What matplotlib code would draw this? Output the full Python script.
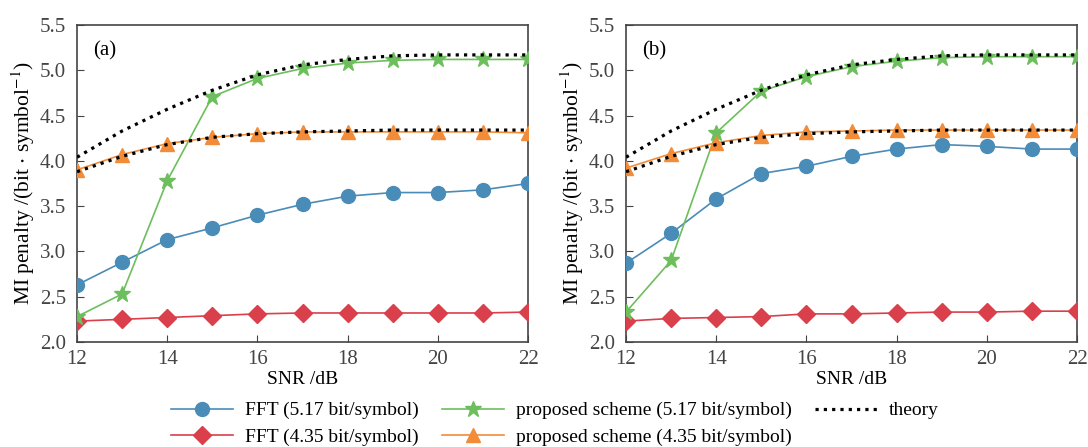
import numpy as np
import matplotlib.pyplot as plt

plt.rcParams['font.family'] = ['Liberation Serif', 'DejaVu Serif']
plt.rcParams['mathtext.fontset'] = 'stix'

snr = [12, 13, 14, 15, 16, 17, 18, 19, 20, 21, 22]

# panel (a)
fft517_a = [2.63, 2.88, 3.13, 3.26, 3.40, 3.52, 3.61, 3.65, 3.65, 3.68, 3.75]
prop517_a = [2.28, 2.53, 3.78, 4.71, 4.91, 5.02, 5.08, 5.11, 5.12, 5.12, 5.12]
fft435_a = [2.23, 2.25, 2.27, 2.29, 2.31, 2.32, 2.32, 2.32, 2.32, 2.32, 2.33]
prop435_a = [3.90, 4.07, 4.19, 4.26, 4.30, 4.32, 4.32, 4.32, 4.32, 4.32, 4.31]

# panel (b)
fft517_b = [2.87, 3.20, 3.58, 3.86, 3.94, 4.05, 4.13, 4.18, 4.16, 4.13, 4.13]
prop517_b = [2.33, 2.90, 4.31, 4.77, 4.93, 5.04, 5.10, 5.14, 5.15, 5.15, 5.15]
fft435_b = [2.23, 2.26, 2.27, 2.28, 2.31, 2.31, 2.32, 2.33, 2.33, 2.34, 2.34]
prop435_b = [3.92, 4.08, 4.20, 4.28, 4.32, 4.33, 4.34, 4.34, 4.34, 4.34, 4.34]

# theory curves (same in both panels)
theory517 = [4.04, 4.33, 4.57, 4.78, 4.95, 5.06, 5.12, 5.16, 5.17, 5.17, 5.17]
theory435 = [3.88, 4.05, 4.18, 4.26, 4.30, 4.32, 4.33, 4.34, 4.34, 4.34, 4.34]

c_blue = '#4a8cb8'
c_green = '#6cbf5c'
c_red = '#d9404c'
c_orange = '#f28c38'

fig = plt.figure(figsize=(10.88, 4.47), dpi=100)
ax1 = fig.add_axes([0.0708, 0.235, 0.4145, 0.709])
ax2 = fig.add_axes([0.5754, 0.235, 0.4145, 0.709])

panels = [(ax1, '(a)', fft517_a, prop517_a, fft435_a, prop435_a),
          (ax2, '(b)', fft517_b, prop517_b, fft435_b, prop435_b)]

for ax, lab, f517, p517, f435, p435 in panels:
    ax.plot(snr, f517, color=c_blue, marker='o', ms=10, lw=1.2,
            label='FFT (5.17 bit/symbol)', zorder=3)
    ax.plot(snr, f435, color=c_red, marker='D', ms=9, lw=1.2,
            label='FFT (4.35 bit/symbol)', zorder=3)
    ax.plot(snr, p517, color=c_green, marker='*', ms=12, lw=1.2,
            label='proposed scheme (5.17 bit/symbol)', zorder=3)
    ax.plot(snr, p435, color=c_orange, marker='^', ms=10, lw=1.2,
            label='proposed scheme (4.35 bit/symbol)', zorder=3)
    ax.plot(snr, theory517, color='black', ls=(0, (1, 1.6)), lw=2.3, label='theory', zorder=4)
    ax.plot(snr, theory435, color='black', ls=(0, (1, 1.6)), lw=2.3, zorder=4)

    ax.set_xlim(12, 22)
    ax.set_ylim(2.0, 5.5)
    ax.set_xticks([12, 14, 16, 18, 20, 22])
    ax.set_yticks(np.arange(2.0, 5.51, 0.5))
    ax.set_yticklabels(['%.1f' % v for v in np.arange(2.0, 5.51, 0.5)])
    ax.tick_params(direction='in', labelsize=15, colors='#444444', length=5)
    ax.tick_params(axis='y', pad=8)
    ax.tick_params(axis='x', pad=6)
    for s in ax.spines.values():
        s.set_color('#444444')
        s.set_linewidth(1.2)
    ax.set_xlabel('SNR /dB', fontsize=14, labelpad=1)
    ax.set_ylabel(r'MI penalty /(bit $\cdot$ symbol$^{-1}$)', fontsize=15.5, labelpad=2)
    ax.text(0.035, 0.95, lab, transform=ax.transAxes, fontsize=15, va='top')

handles, labels = ax1.get_legend_handles_labels()
fig.legend(handles, labels, ncol=3, loc='center', bbox_to_anchor=(0.51, 0.052),
           frameon=False, fontsize=14, handlelength=3.2, columnspacing=1.2,
           labelspacing=0.45, handletextpad=0.6)

fig.savefig('out.png', dpi=100)
